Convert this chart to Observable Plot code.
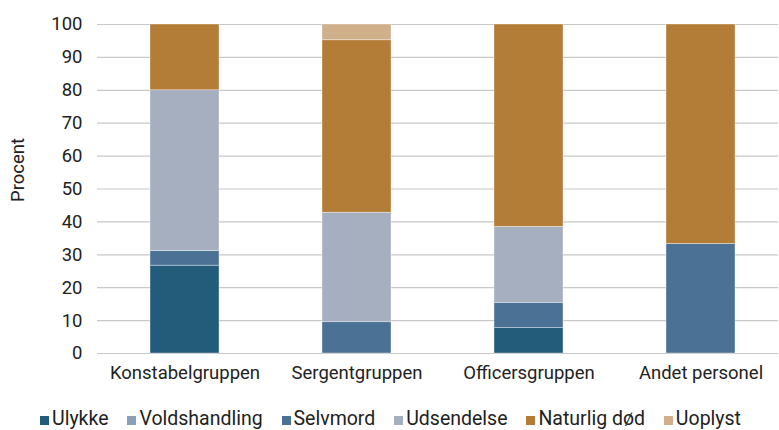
<!DOCTYPE html>
<html>
<head>
<meta charset="utf-8">
<script src="https://cdn.jsdelivr.net/npm/d3@7"></script>
<script src="https://cdn.jsdelivr.net/npm/@observablehq/plot@0.6"></script>
<style>
  html, body { margin: 0; padding: 0; background: #fff; }
  body { width: 779px; height: 430px; overflow: hidden; font-family: Roboto, "Liberation Sans", sans-serif; }
  #chart svg { display: block; }
  #legend { display: flex; justify-content: space-between; width: 701px; margin-left: 40px; font-size: 19.5px; line-height: 20px; color: #222; margin-top: 14px; white-space: nowrap; }
  #legend .item { display: inline-block; }
  #legend .sw { width: 9px; height: 9px; margin-right: 3px; display: inline-block; vertical-align: baseline; }
</style>
</head>
<body>
<div id="chart"></div>
<div id="legend"></div>
<script>
const categories = ["Konstabelgruppen", "Sergentgruppen", "Officersgruppen", "Andet personel"];
const series = ["Ulykke", "Voldshandling", "Selvmord", "Udsendelse", "Naturlig død", "Uoplyst"];
const colors = ["#235b7b", "#8aa0b8", "#4b7295", "#a5afc0", "#b37c37", "#d0b08b"];
const ulykke        = [26.7, 0, 7.7, 0];
const voldshandling = [0, 0, 0, 0];
const selvmord      = [4.4, 9.5, 7.7, 33.3];
const udsendelse    = [48.9, 33.3, 23.1, 0];
const naturligDod   = [20.0, 52.4, 61.5, 66.7];
const uoplyst       = [0, 4.8, 0, 0];
const yTicks = [0, 10, 20, 30, 40, 50, 60, 70, 80, 90, 100];
const yLabel = "Procent";

const valuesBySeries = [ulykke, voldshandling, selvmord, udsendelse, naturligDod, uoplyst];
const data = [];
series.forEach((s, i) => categories.forEach((c, j) => {
  data.push({category: c, series: s, value: valuesBySeries[i][j]});
}));

const W = 779, H = 395, ML = 97, MR = 1;
const chart = Plot.plot({
  width: W,
  height: H,
  marginTop: 24,
  marginBottom: 42,
  marginLeft: ML,
  marginRight: MR,
  style: {fontFamily: "Roboto, sans-serif", fontSize: "18.5px", color: "#222", background: "#fff"},
  x: {domain: categories, paddingInner: 0.6, paddingOuter: 0.3, range: [ML + 1, W + 8], label: null},
  y: {domain: [0, 100], ticks: yTicks, label: null},
  color: {domain: series, range: colors},
  marks: [
    Plot.gridY(yTicks, {stroke: "#c8c8c8", strokeOpacity: 1, strokeWidth: 1.2}),
    Plot.barY(data, Plot.stackY({x: "category", y: "value", fill: "series", order: series, stroke: "#fff", strokeWidth: 0.6, strokeOpacity: 0.6})),
    Plot.axisY({ticks: yTicks, tickSize: 0, tickPadding: 15, label: null, fontSize: 18.5}),
    Plot.axisX({tickSize: 0, tickPadding: 12.5, fontSize: 18.5}),
    Plot.text([yLabel], {text: d => d, frameAnchor: "left", textAnchor: "middle", rotate: -90, dx: -79, dy: -19, fontSize: 18.5, fill: "#222"})
  ]
});
document.getElementById("chart").appendChild(chart);

const legend = document.getElementById("legend");
series.forEach((s, i) => {
  const item = document.createElement("span");
  item.className = "item";
  const sw = document.createElement("span");
  sw.className = "sw";
  sw.style.background = colors[i];
  item.appendChild(sw);
  item.appendChild(document.createTextNode(s));
  legend.appendChild(item);
});
</script>
</body>
</html>
